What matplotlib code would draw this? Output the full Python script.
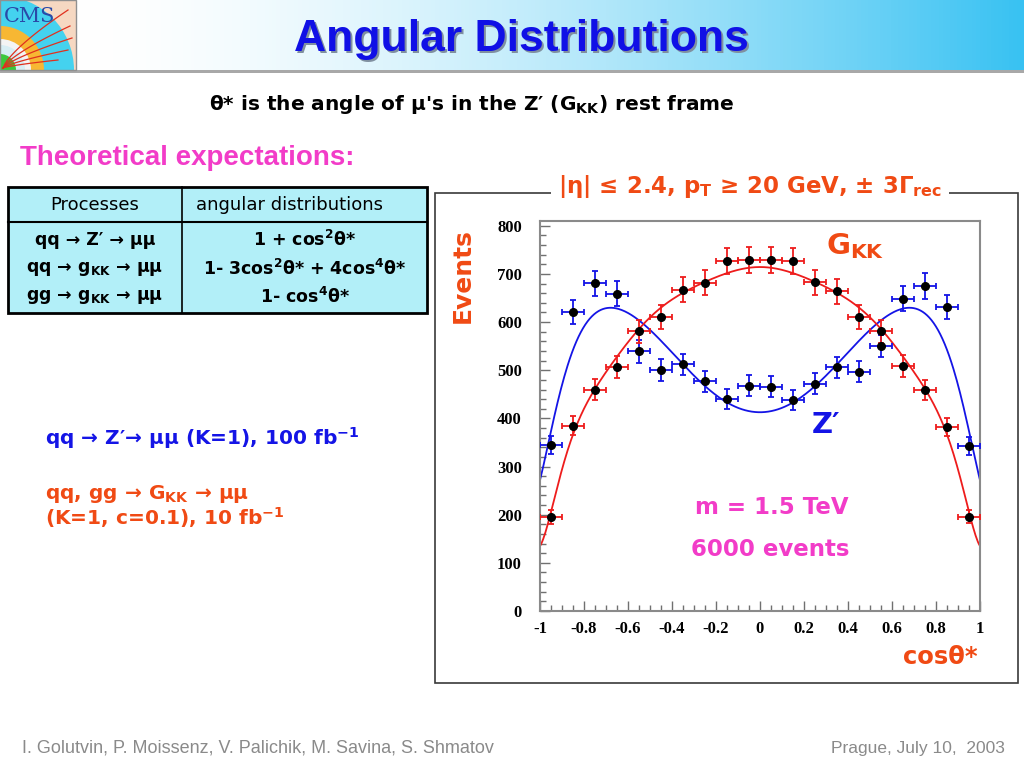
import numpy as np
import matplotlib
matplotlib.use("Agg")
import matplotlib.pyplot as plt
from matplotlib.patches import Rectangle, Wedge

# --- data ---
cos_bins = [-0.95, -0.85, -0.75, -0.65, -0.55, -0.45, -0.35, -0.25, -0.15, -0.05,
            0.05, 0.15, 0.25, 0.35, 0.45, 0.55, 0.65, 0.75, 0.85, 0.95]
zprime_events = [345, 622, 681, 659, 539, 500, 512, 477, 440, 468,
                 466, 439, 472, 506, 497, 550, 649, 675, 631, 342]
gkk_events = [195, 385, 460, 507, 581, 611, 667, 682, 727, 729,
              728, 727, 683, 664, 611, 581, 509, 459, 382, 196]

# fitted curves, sampled on |cos theta*| (both are symmetric)
curve_x = [0.0, 0.1, 0.2, 0.3, 0.4, 0.5, 0.6, 0.7, 0.8, 0.9, 0.95, 1.0]
zprime_fit = [414, 421, 447, 490, 538, 582, 619, 631, 588, 472, 372, 272]
gkk_fit = [713, 709, 695, 673, 645, 610, 560, 495, 420, 295, 205, 135]

x_ticks = [-1, -0.8, -0.6, -0.4, -0.2, 0, 0.2, 0.4, 0.6, 0.8, 1]
x_ticklabels = ["-1", "-0.8", "-0.6", "-0.4", "-0.2", "0", "0.2", "0.4", "0.6", "0.8", "1"]
y_ticks = [0, 100, 200, 300, 400, 500, 600, 700, 800]

BLUE = "#1414e6"
RED = "#ee1c1c"
ORANGE = "#f04a14"
MAGENTA = "#f23cc8"
COMIC = ["DejaVu Sans"]
NARROW = ["Liberation Sans Narrow", "Liberation Sans"]

fig = plt.figure(figsize=(10.24, 7.68), dpi=100)

# background axes in pixel coordinates (y downwards)
bg = fig.add_axes([0, 0, 1, 1])
bg.set_xlim(0, 1024)
bg.set_ylim(768, 0)
bg.axis("off")

# header band with gradient
grad = np.linspace(0, 1, 256) ** 1.6
cyan = np.array([0.22, 0.76, 0.95])
band = (1 - grad)[:, None] + grad[:, None] * cyan[None, :]
bg.imshow(band[None, :, :], extent=(76, 1024, 70, 0), aspect="auto", zorder=0)
bg.add_patch(Rectangle((0, 70), 1024, 3, color="#a8a8a8", zorder=1, lw=0))

# CMS logo (simplified)
bg.add_patch(Rectangle((0, 0), 76, 70, color="#f6d8c2", zorder=1, lw=0))
bg.add_patch(Wedge((0, 70), 74, 270, 360, color="#44d2ef", zorder=2, lw=0))
bg.add_patch(Rectangle((0, 0), 76, 70, fill=False, ec="#44d2ef", lw=0, zorder=2))
bg.add_patch(Wedge((0, 70), 44, 270, 360, color="#f7b733", zorder=3, lw=0))
bg.add_patch(Wedge((0, 70), 31, 270, 360, color="#f4f4f4", zorder=4, lw=0))
bg.add_patch(Wedge((0, 70), 25, 270, 360, color="#d8eef4", zorder=5, lw=0))
bg.add_patch(Wedge((0, 70), 16, 270, 360, color="#3cc83c", zorder=6, lw=0))
t = np.linspace(0, 1, 30)
for ex, ey in [(68, 10), (70, 26), (72, 38), (68, 50), (58, 60)]:
    bg.plot(3 + (ex - 3) * t, 68 + (ey - 68) * t ** 0.75, color="#e0301e", lw=0.9, zorder=7)
bg.text(30, 16, "CMS", fontsize=15, color="#2a4aa8", family="DejaVu Serif",
        ha="center", va="center", zorder=8)
bg.add_patch(Rectangle((0, 0), 76, 70, fill=False, ec="#909090", lw=1, zorder=9))

# title with shadow
bg.text(523, 42, "Angular Distributions", fontsize=32, fontweight="bold",
        family="Liberation Sans", color="#8090a0", ha="center", va="center", zorder=2)
bg.text(521, 40, "Angular Distributions", fontsize=32, fontweight="bold",
        family="Liberation Sans", color="#1010e6", ha="center", va="center", zorder=3)

bg.text(472, 105, r"θ* is the angle of μ's in the Z′ (G$_\mathbf{KK}$) rest frame",
        fontsize=14.5, fontweight="bold", family=COMIC, ha="center", va="center")

bg.text(20, 158, "Theoretical expectations:", fontsize=20, fontweight="bold",
        family="Liberation Sans", color=MAGENTA, ha="left", va="center")

# table
bg.add_patch(Rectangle((8, 187), 419, 126, fc="#b2eff8", ec="black", lw=2, zorder=1))
bg.plot([8, 427], [222, 222], color="black", lw=1.5, zorder=2)
bg.plot([182, 182], [187, 313], color="black", lw=1.2, zorder=2)
bg.text(95, 205, "Processes", fontsize=13, family=COMIC, ha="center", va="center", zorder=3)
bg.text(290, 205, "angular distributions", fontsize=13, family=COMIC, ha="center",
        va="center", zorder=3)
procs = ["qq → Z′ → μμ", r"qq → g$_\mathbf{KK}$ → μμ", r"gg → g$_\mathbf{KK}$ → μμ"]
dists = [r"1 + cos$^\mathbf{2}$θ*", r"1- 3cos$^\mathbf{2}$θ* + 4cos$^\mathbf{4}$θ*",
         r"1- cos$^\mathbf{4}$θ*"]
for yy, p, d in zip([240, 269, 297], procs, dists):
    bg.text(95, yy, p, fontsize=12.5, fontweight="bold", family=COMIC, ha="center",
            va="center", zorder=3)
    bg.text(305, yy, d, fontsize=12.5, fontweight="bold", family=COMIC, ha="center",
            va="center", zorder=3)

# left-hand notes
bg.text(45, 438, r"qq → Z′→ μμ (K=1), 100 fb$^\mathbf{-1}$", fontsize=14.5, fontweight="bold",
        family=COMIC, color=BLUE, ha="left", va="center")
bg.text(45, 494, r"qq, gg → G$_\mathbf{KK}$ → μμ", fontsize=14.5, fontweight="bold",
        family=COMIC, color=ORANGE, ha="left", va="center")
bg.text(45, 518, r"(K=1, c=0.1), 10 fb$^\mathbf{-1}$", fontsize=14.5, fontweight="bold",
        family=COMIC, color=ORANGE, ha="left", va="center")

# framed plot box with its heading
bg.add_patch(Rectangle((435, 193), 583, 490, fill=False, ec="#3a3a3a", lw=1.2))
bg.text(750, 186, r"|η| ≤ 2.4, p$_\mathbf{T}$ ≥ 20 GeV, ± 3Γ$_\mathbf{rec}$",
        fontsize=16.5, fontweight="bold", family=COMIC, color=ORANGE, ha="center",
        va="center", bbox=dict(fc="white", ec="none", pad=5))
bg.text(463, 276, "Events", fontsize=18, fontweight="bold", family=COMIC, color=ORANGE,
        rotation=90, ha="center", va="center")
bg.text(940, 657, "cosθ*", fontsize=17.5, fontweight="bold", family=COMIC, color=ORANGE,
        ha="center", va="center")

# footer
bg.text(22, 748, "I. Golutvin, P. Moissenz, V. Palichik, M. Savina, S. Shmatov",
        fontsize=13, family=NARROW, color="#8a8a8a", ha="left", va="center")
bg.text(1005, 748, "Prague, July 10,  2003", fontsize=12.5,
        family=NARROW, color="#8a8a8a", ha="right", va="center")

# --- the histogram plot ---
ax = fig.add_axes([540 / 1024, (768 - 611) / 768, 440 / 1024, 390 / 768])
ax.set_facecolor("none")

xs = np.array(cos_bins)
zp = np.array(zprime_events)
gk = np.array(gkk_events)

# smooth the sampled fit curves with an even polynomial
cx = np.array(curve_x)
xx = np.linspace(-1, 1, 400)
for fit, col in [(zprime_fit, BLUE), (gkk_fit, RED)]:
    coef = np.polyfit(cx ** 2, np.array(fit), 6)
    ax.plot(xx, np.polyval(coef, xx ** 2), color=col, lw=1.3, zorder=2)

for ev, col in [(zp, BLUE), (gk, RED)]:
    ax.errorbar(xs, ev, xerr=0.05, yerr=np.sqrt(ev), fmt="none", ecolor=col,
                elinewidth=1.3, capsize=2.5, capthick=1.3, zorder=3)
    ax.plot(xs, ev, "o", color="black", ms=5.5, zorder=4)

ax.set_xlim(-1, 1)
ax.set_ylim(0, 810)
ax.set_xticks(x_ticks)
ax.set_xticklabels(x_ticklabels)
ax.set_yticks(y_ticks)
ax.set_xticks(np.arange(-1, 1.001, 0.05), minor=True)
ax.set_yticks(np.arange(0, 801, 20), minor=True)
ax.tick_params(which="both", direction="in", top=False, right=False, color="#707070")
ax.tick_params(which="major", length=7, width=1)
ax.tick_params(which="minor", length=4, width=1)
ax.tick_params(axis="y", which="major", pad=13)
ax.tick_params(axis="x", which="major", pad=7)
for s in ax.spines.values():
    s.set_color("#8a8a8a")
    s.set_linewidth(1.5)
for lab in ax.get_xticklabels() + ax.get_yticklabels():
    lab.set_family("Liberation Serif")
    lab.set_fontweight("bold")
    lab.set_fontsize(12)

# labels inside the plot, placed in slide pixels
ax.text(855, 246, r"G$_\mathbf{KK}$", transform=bg.transData, fontsize=21,
        fontweight="bold", family=COMIC, color=ORANGE, ha="center", va="center")
ax.text(826, 425, "Z′", transform=bg.transData, fontsize=21, fontweight="bold",
        family=COMIC, color=BLUE, ha="center", va="center")
ax.text(772, 508, "m = 1.5 TeV", transform=bg.transData, fontsize=16.5,
        fontweight="bold", family=COMIC, color=MAGENTA, ha="center", va="center")
ax.text(770, 550, "6000 events", transform=bg.transData, fontsize=16.5,
        fontweight="bold", family=COMIC, color=MAGENTA, ha="center", va="center")

fig.savefig("out.png", dpi=100)
